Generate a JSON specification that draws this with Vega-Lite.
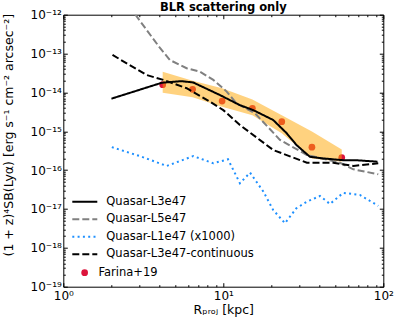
{
  "$schema": "https://vega.github.io/schema/vega-lite/v6.json",
  "width": 320,
  "height": 272,
  "autosize": "none",
  "padding": {"left": 63.3, "top": 14.7, "right": 11.7, "bottom": 37.3},
  "title": {"text": "BLR scattering only", "font": "DejaVu Sans", "fontSize": 11.5, "fontWeight": "bold", "anchor": "middle", "offset": -5, "color": "black"},
  "config": {
    "view": {"stroke": "black", "strokeWidth": 1},
    "axis": {"domain": false, "grid": false, "tickColor": "black", "tickWidth": 1, "labelColor": "black", "labelFont": "DejaVu Sans", "labelFontSize": 12, "titleFont": "DejaVu Sans", "titleFontSize": 12.5, "titleFontWeight": "normal", "titleColor": "black", "labelOverlap": false, "labelFlush": false, "labelBound": false},
    "legend": {"labelFont": "DejaVu Sans", "labelFontSize": 11.5, "labelColor": "black"}
  },
  "datasets": {
    "lines": [
      {"series": "Quasar-L3e47", "r": 2.0, "sb": 6.9e-15},
      {"series": "Quasar-L3e47", "r": 4.12, "sb": 1.77e-14},
      {"series": "Quasar-L3e47", "r": 5.49, "sb": 1.95e-14},
      {"series": "Quasar-L3e47", "r": 6.49, "sb": 1.8e-14},
      {"series": "Quasar-L3e47", "r": 9.5, "sb": 8.6e-15},
      {"series": "Quasar-L3e47", "r": 12.7, "sb": 4.7e-15},
      {"series": "Quasar-L3e47", "r": 15.4, "sb": 3.5e-15},
      {"series": "Quasar-L3e47", "r": 20.5, "sb": 1.95e-15},
      {"series": "Quasar-L3e47", "r": 24.9, "sb": 8.9e-16},
      {"series": "Quasar-L3e47", "r": 28.7, "sb": 4.4e-16},
      {"series": "Quasar-L3e47", "r": 34.8, "sb": 2.2e-16},
      {"series": "Quasar-L3e47", "r": 42.2, "sb": 2.0e-16},
      {"series": "Quasar-L3e47", "r": 56.2, "sb": 1.8e-16},
      {"series": "Quasar-L3e47", "r": 67.6, "sb": 1.8e-16},
      {"series": "Quasar-L3e47", "r": 92.0, "sb": 1.65e-16},
      {"series": "Quasar-L5e47", "r": 2.0, "sb": 6.8e-12},
      {"series": "Quasar-L5e47", "r": 4.02, "sb": 1.39e-13},
      {"series": "Quasar-L5e47", "r": 4.64, "sb": 6.8e-14},
      {"series": "Quasar-L5e47", "r": 5.9, "sb": 4.2e-14},
      {"series": "Quasar-L5e47", "r": 7.15, "sb": 3.4e-14},
      {"series": "Quasar-L5e47", "r": 8.66, "sb": 2.1e-14},
      {"series": "Quasar-L5e47", "r": 10.5, "sb": 1.05e-14},
      {"series": "Quasar-L5e47", "r": 12.1, "sb": 5.2e-15},
      {"series": "Quasar-L5e47", "r": 15.8, "sb": 2.9e-15},
      {"series": "Quasar-L5e47", "r": 22.6, "sb": 6.0e-16},
      {"series": "Quasar-L5e47", "r": 33.3, "sb": 2.45e-16},
      {"series": "Quasar-L5e47", "r": 53.6, "sb": 1.55e-16},
      {"series": "Quasar-L5e47", "r": 65.0, "sb": 1.05e-16},
      {"series": "Quasar-L5e47", "r": 93.0, "sb": 7.8e-17},
      {"series": "Quasar-L1e47 (x1000)", "r": 2.01, "sb": 3.9e-16},
      {"series": "Quasar-L1e47 (x1000)", "r": 3.01, "sb": 2.3e-16},
      {"series": "Quasar-L1e47 (x1000)", "r": 4.43, "sb": 1.28e-16},
      {"series": "Quasar-L1e47 (x1000)", "r": 6.49, "sb": 2.3e-16},
      {"series": "Quasar-L1e47 (x1000)", "r": 8.66, "sb": 1.5e-16},
      {"series": "Quasar-L1e47 (x1000)", "r": 10.7, "sb": 1.9e-16},
      {"series": "Quasar-L1e47 (x1000)", "r": 12.7, "sb": 4.6e-17},
      {"series": "Quasar-L1e47 (x1000)", "r": 14.7, "sb": 8.6e-17},
      {"series": "Quasar-L1e47 (x1000)", "r": 17.8, "sb": 2.8e-17},
      {"series": "Quasar-L1e47 (x1000)", "r": 20.5, "sb": 9.4e-18},
      {"series": "Quasar-L1e47 (x1000)", "r": 24.3, "sb": 4.3e-18},
      {"series": "Quasar-L1e47 (x1000)", "r": 28.6, "sb": 1.04e-17},
      {"series": "Quasar-L1e47 (x1000)", "r": 33.3, "sb": 1.54e-17},
      {"series": "Quasar-L1e47 (x1000)", "r": 40.2, "sb": 2.16e-17},
      {"series": "Quasar-L1e47 (x1000)", "r": 46.4, "sb": 1.35e-17},
      {"series": "Quasar-L1e47 (x1000)", "r": 56.2, "sb": 2.6e-17},
      {"series": "Quasar-L1e47 (x1000)", "r": 71.4, "sb": 2.3e-17},
      {"series": "Quasar-L1e47 (x1000)", "r": 93.0, "sb": 1.2e-17},
      {"series": "Quasar-L3e47-continuous", "r": 2.03, "sb": 9.2e-14},
      {"series": "Quasar-L3e47-continuous", "r": 3.32, "sb": 2.8e-14},
      {"series": "Quasar-L3e47-continuous", "r": 4.22, "sb": 2.1e-14},
      {"series": "Quasar-L3e47-continuous", "r": 5.9, "sb": 1.28e-14},
      {"series": "Quasar-L3e47-continuous", "r": 8.25, "sb": 5.8e-15},
      {"series": "Quasar-L3e47-continuous", "r": 10.0, "sb": 3.5e-15},
      {"series": "Quasar-L3e47-continuous", "r": 12.7, "sb": 1.45e-15},
      {"series": "Quasar-L3e47-continuous", "r": 20.5, "sb": 3.3e-16},
      {"series": "Quasar-L3e47-continuous", "r": 33.3, "sb": 1.55e-16},
      {"series": "Quasar-L3e47-continuous", "r": 48.7, "sb": 1.55e-16},
      {"series": "Quasar-L3e47-continuous", "r": 65.0, "sb": 1.28e-16},
      {"series": "Quasar-L3e47-continuous", "r": 93.0, "sb": 1.5e-16}
    ],
    "farina": [
      {"series": "Farina+19", "r": 4.18, "sb": 1.58e-14, "lo": 9.8e-15, "hi": 3.41e-14},
      {"series": "Farina+19", "r": 6.43, "sb": 1.2e-14, "lo": 7.5e-15, "hi": 2.0e-14},
      {"series": "Farina+19", "r": 9.83, "sb": 6.0e-15, "lo": 4.3e-15, "hi": 1.28e-14},
      {"series": "Farina+19", "r": 15.2, "sb": 3.9e-15, "lo": 2.6e-15, "hi": 6.6e-15},
      {"series": "Farina+19", "r": 23.2, "sb": 1.77e-15, "lo": 8.9e-16, "hi": 2.6e-15},
      {"series": "Farina+19", "r": 35.8, "sb": 3.9e-16, "lo": 2.0e-16, "hi": 9.8e-16},
      {"series": "Farina+19", "r": 55.0, "sb": 2.1e-16, "lo": 1.65e-16, "hi": 3.4e-16}
    ]
  },
  "layer": [
    {
      "data": {"name": "farina"},
      "mark": {"type": "circle", "size": 45, "opacity": 1},
      "encoding": {
        "x": {"field": "r", "type": "quantitative", "scale": {"type": "log", "domain": [1, 100], "nice": false},
          "axis": {"orient": "bottom", "values": [1, 10, 100], "labelExpr": "'10' + ['⁰','¹','²'][round(log(datum.value)/LN10)]", "tickSize": -4, "labelPadding": 8, "title": "Rₚᵣₒⱼ [kpc]", "titlePadding": 2}},
        "y": {"field": "sb", "type": "quantitative", "scale": {"type": "log", "domain": [1e-19, 1e-12], "nice": false},
          "axis": {"orient": "left", "values": [1e-19, 1e-18, 1e-17, 1e-16, 1e-15, 1e-14, 1e-13, 1e-12], "labelExpr": "'10⁻¹' + ['⁰','¹','²','³','⁴','⁵','⁶','⁷','⁸','⁹'][-round(log(datum.value)/LN10)-10]", "tickSize": -4, "labelPadding": 6, "title": "(1 + z)⁴SB(Lyα) [erg s⁻¹ cm⁻² arcsec⁻²]", "titleX": -55, "titleY": 120, "titleAngle": -90, "titleAlign": "center", "titleBaseline": "middle"}},
        "fill": {"field": "series", "type": "nominal",
          "scale": {"domain": ["Farina+19"], "range": ["#dc143c"]},
          "legend": {"orient": "none", "legendX": 15.6, "legendY": 251, "title": null, "padding": 0, "symbolSize": 45, "symbolType": "circle", "symbolOpacity": 1, "labelOffset": 8, "clipHeight": 14}}
      }
    },
    {
      "data": {"name": "farina"},
      "mark": {"type": "area", "color": "#ffa500", "opacity": 0.5},
      "encoding": {
        "x": {"field": "r", "type": "quantitative", "scale": {"type": "log", "domain": [1, 100], "nice": false},
          "axis": {"orient": "top", "values": [1, 10, 100], "labels": false, "tickSize": -4, "title": null}},
        "y": {"field": "hi", "type": "quantitative", "scale": {"type": "log", "domain": [1e-19, 1e-12], "nice": false},
          "axis": {"orient": "right", "values": [1e-19, 1e-18, 1e-17, 1e-16, 1e-15, 1e-14, 1e-13, 1e-12], "labels": false, "tickSize": -4, "title": null}},
        "y2": {"field": "lo"}
      }
    },
    {
      "data": {"name": "lines"},
      "transform": [{"filter": "datum.series === 'Quasar-L1e47 (x1000)'"}],
      "mark": {"type": "line", "strokeWidth": 2, "strokeCap": "butt", "clip": true},
      "encoding": {
        "x": {"field": "r", "type": "quantitative", "scale": {"type": "log", "domain": [1, 100], "nice": false},
          "axis": {"orient": "bottom", "values": [2, 3, 4, 5, 6, 7, 8, 9, 20, 30, 40, 50, 60, 70, 80, 90], "labels": false, "tickSize": -2, "title": null}},
        "y": {"field": "sb", "type": "quantitative", "scale": {"type": "log", "domain": [1e-19, 1e-12], "nice": false},
          "axis": {"orient": "left", "values": [2e-19, 3e-19, 4e-19, 5e-19, 6e-19, 7e-19, 8e-19, 9e-19, 2e-18, 3e-18, 4e-18, 5e-18, 6e-18, 7e-18, 8e-18, 9e-18, 2e-17, 3e-17, 4e-17, 5e-17, 6e-17, 7e-17, 8e-17, 9e-17, 2e-16, 3e-16, 4e-16, 5e-16, 6e-16, 7e-16, 8e-16, 9e-16, 2e-15, 3e-15, 4e-15, 5e-15, 6e-15, 7e-15, 8e-15, 9e-15, 2e-14, 3e-14, 4e-14, 5e-14, 6e-14, 7e-14, 8e-14, 9e-14, 2e-13, 3e-13, 4e-13, 5e-13, 6e-13, 7e-13, 8e-13, 9e-13], "labels": false, "tickSize": -2, "title": null}},
        "color": {"field": "series", "type": "nominal",
          "scale": {"domain": ["Quasar-L3e47", "Quasar-L5e47", "Quasar-L1e47 (x1000)", "Quasar-L3e47-continuous"], "range": ["black", "#808080", "#1e90ff", "black"]},
          "legend": {"orient": "none", "legendX": 8, "legendY": 180, "title": null, "padding": 0, "symbolSize": 625, "symbolType": "stroke", "symbolStrokeWidth": 2, "labelOffset": 8, "clipHeight": 14, "rowPadding": 3.5}},
        "strokeDash": {"field": "series", "type": "nominal",
          "scale": {"domain": ["Quasar-L3e47", "Quasar-L5e47", "Quasar-L1e47 (x1000)", "Quasar-L3e47-continuous"], "range": [[1, 0], [7, 3], [2, 3.3], [7, 3]]},
          "legend": {"orient": "none", "legendX": 8, "legendY": 180, "title": null, "padding": 0, "symbolSize": 625, "symbolType": "stroke", "symbolStrokeWidth": 2, "labelOffset": 8, "clipHeight": 14, "rowPadding": 3.5}}
      }
    },
    {
      "data": {"name": "lines"},
      "transform": [{"filter": "datum.series === 'Quasar-L5e47'"}],
      "mark": {"type": "line", "strokeWidth": 2, "clip": true},
      "encoding": {
        "x": {"field": "r", "type": "quantitative", "scale": {"type": "log", "domain": [1, 100], "nice": false},
          "axis": {"orient": "top", "values": [2, 3, 4, 5, 6, 7, 8, 9, 20, 30, 40, 50, 60, 70, 80, 90], "labels": false, "tickSize": -2, "title": null}},
        "y": {"field": "sb", "type": "quantitative", "scale": {"type": "log", "domain": [1e-19, 1e-12], "nice": false},
          "axis": {"orient": "right", "values": [2e-19, 3e-19, 4e-19, 5e-19, 6e-19, 7e-19, 8e-19, 9e-19, 2e-18, 3e-18, 4e-18, 5e-18, 6e-18, 7e-18, 8e-18, 9e-18, 2e-17, 3e-17, 4e-17, 5e-17, 6e-17, 7e-17, 8e-17, 9e-17, 2e-16, 3e-16, 4e-16, 5e-16, 6e-16, 7e-16, 8e-16, 9e-16, 2e-15, 3e-15, 4e-15, 5e-15, 6e-15, 7e-15, 8e-15, 9e-15, 2e-14, 3e-14, 4e-14, 5e-14, 6e-14, 7e-14, 8e-14, 9e-14, 2e-13, 3e-13, 4e-13, 5e-13, 6e-13, 7e-13, 8e-13, 9e-13], "labels": false, "tickSize": -2, "title": null}},
        "color": {"field": "series", "type": "nominal"},
        "strokeDash": {"field": "series", "type": "nominal"}
      }
    },
    {
      "data": {"name": "lines"},
      "transform": [{"filter": "datum.series === 'Quasar-L3e47-continuous'"}],
      "mark": {"type": "line", "strokeWidth": 2, "clip": true},
      "encoding": {
        "x": {"field": "r", "type": "quantitative", "scale": {"type": "log", "domain": [1, 100], "nice": false}, "axis": null},
        "y": {"field": "sb", "type": "quantitative", "scale": {"type": "log", "domain": [1e-19, 1e-12], "nice": false}, "axis": null},
        "color": {"field": "series", "type": "nominal"},
        "strokeDash": {"field": "series", "type": "nominal"}
      }
    },
    {
      "data": {"name": "lines"},
      "transform": [{"filter": "datum.series === 'Quasar-L3e47'"}],
      "mark": {"type": "line", "strokeWidth": 2, "clip": true},
      "encoding": {
        "x": {"field": "r", "type": "quantitative", "scale": {"type": "log", "domain": [1, 100], "nice": false}, "axis": null},
        "y": {"field": "sb", "type": "quantitative", "scale": {"type": "log", "domain": [1e-19, 1e-12], "nice": false}, "axis": null},
        "color": {"field": "series", "type": "nominal"},
        "strokeDash": {"field": "series", "type": "nominal"}
      }
    }
  ],
  "resolve": {"axis": {"x": "independent", "y": "independent"}}
}
